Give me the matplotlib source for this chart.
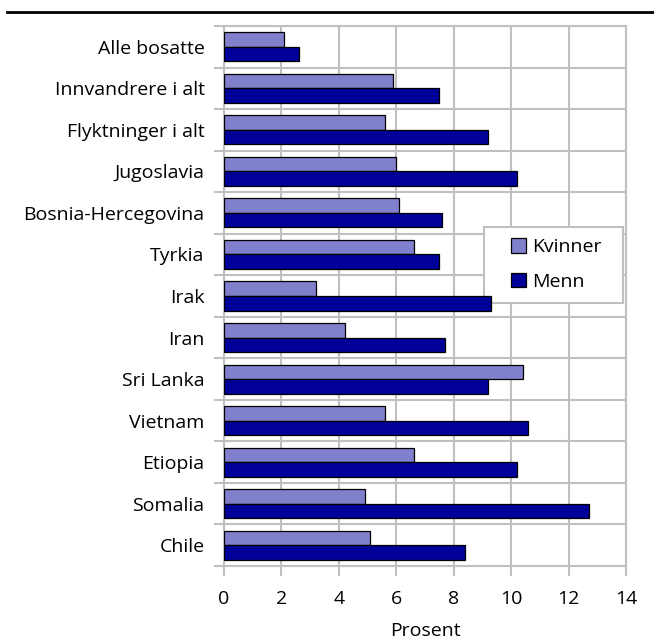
import matplotlib
matplotlib.use("Agg")
import matplotlib.pyplot as plt
import numpy as np
from matplotlib.lines import Line2D
from matplotlib.patches import Rectangle

categories = ["Alle bosatte", "Innvandrere i alt", "Flyktninger i alt", "Jugoslavia",
              "Bosnia-Hercegovina", "Tyrkia", "Irak", "Iran", "Sri Lanka", "Vietnam",
              "Etiopia", "Somalia", "Chile"]
kvinner = [2.1, 5.9, 5.6, 6.0, 6.1, 6.6, 3.2, 4.2, 10.4, 5.6, 6.6, 4.9, 5.1]
menn = [2.6, 7.5, 9.2, 10.2, 7.6, 7.5, 9.3, 7.7, 9.2, 10.6, 10.2, 12.7, 8.4]
xticks = [0, 2, 4, 6, 8, 10, 12, 14]
series_names = ["Kvinner", "Menn"]

plt.rcParams['font.family'] = ['Open Sans', 'DejaVu Sans']
grid_c = "#c0c0c0"
fs = 14

fig = plt.figure(figsize=(6.54, 6.39), dpi=100)
ax = fig.add_axes([224/654, 1-566/639, 402/654, 540/639])

y = np.arange(len(categories))
h = 0.35
ax.barh(y - h/2, kvinner, height=h, color="#8080cc", edgecolor="black", linewidth=0.9,
        label=series_names[0], zorder=3)
ax.barh(y + h/2, menn, height=h, color="#000099", edgecolor="black", linewidth=0.9,
        label=series_names[1], zorder=3)

ax.set_xlim(0, 14)
ax.set_ylim(len(categories) - 0.5, -0.5)
ax.set_xticks(xticks)
ax.set_xticklabels([str(v) for v in xticks], fontsize=fs)
ax.set_yticks(y)
ax.set_yticklabels(categories, fontsize=fs)
ax.tick_params(axis='y', length=0, pad=14)
ax.set_yticks(np.arange(-0.5, len(categories)), minor=True)
ax.tick_params(axis='y', which='minor', length=7, color=grid_c, width=1.5)
ax.tick_params(axis='x', length=7, color=grid_c, width=1.5, pad=10)
ax.grid(True, axis='x', color=grid_c, linewidth=1.5, zorder=0)
ax.grid(True, axis='y', which='minor', color=grid_c, linewidth=1.5, zorder=0)
for s in ax.spines.values():
    s.set_color(grid_c)
    s.set_linewidth(1.5)
ax.set_xlabel("Prosent", fontsize=fs, labelpad=10)

# legend box (frame drawn separately for wider horizontal padding)
box = Rectangle((0.647, 0.487), 0.346, 0.141, transform=ax.transAxes,
                facecolor="white", edgecolor=grid_c, linewidth=1.5, zorder=2.4)
ax.add_patch(box)
leg = ax.legend(loc='upper left', bbox_to_anchor=(0.714, 0.607), fontsize=fs,
                frameon=False, handlelength=0.75, handleheight=0.75,
                handletextpad=0.35, borderpad=0, labelspacing=0.85, borderaxespad=0)
leg.set_zorder(2.5)

fig.add_artist(Line2D([7/654, 1], [1-12/639, 1-12/639], color="black", linewidth=2,
                      transform=fig.transFigure))

fig.savefig("out.png", dpi=100)
